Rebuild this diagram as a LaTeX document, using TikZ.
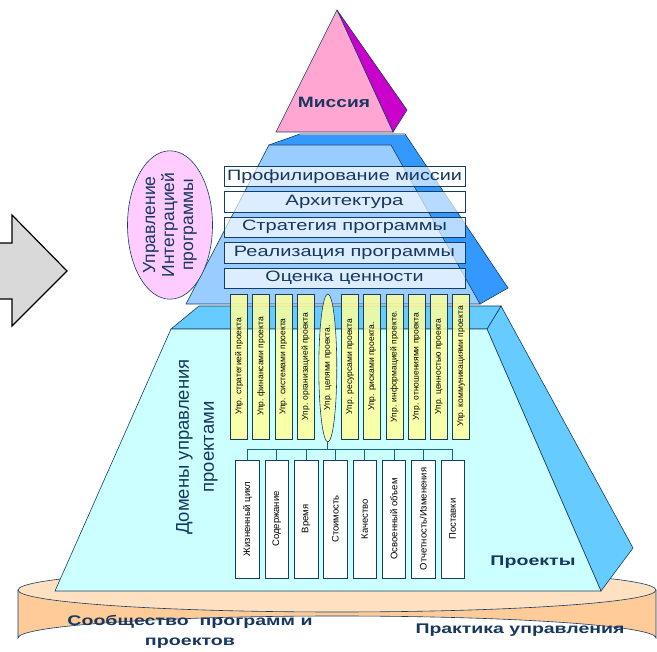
\documentclass[tikz,border=0pt]{standalone}
\usepackage{fontspec}
\setmainfont{Liberation Sans}
\usepackage{tikz}
\usetikzlibrary{positioning,shapes.geometric}
\definecolor{edgeblue}{RGB}{20,60,100}
\definecolor{textblue}{RGB}{23,55,94}
\definecolor{diskside}{RGB}{255,204,153}
\definecolor{disktop}{RGB}{255,224,192}
\definecolor{projfront}{RGB}{204,255,255}
\definecolor{projside}{RGB}{102,204,255}
\definecolor{progfront}{RGB}{153,204,255}
\definecolor{progback}{RGB}{51,153,255}
\definecolor{misspink}{RGB}{255,166,210}
\definecolor{missside}{RGB}{204,0,204}
\definecolor{intpink}{RGB}{255,204,255}
\definecolor{baryellow}{RGB}{255,255,153}
\newcommand{\fitw}[2]{\resizebox{#1pt}{\height}{#2}}

\begin{document}
\begin{tikzpicture}[x=1pt,y=-1pt,
  outline/.style={draw=edgeblue,line width=0.6pt},
  progbox/.style={outline,fill=white,fill opacity=0.65,text opacity=1,minimum width=241pt,minimum height=20.5pt,inner sep=0pt,text=textblue,font=\fontsize{15}{15}\selectfont},
  ybar/.style={outline,fill=baryellow,fill opacity=0.85,text opacity=1,rotate=90,minimum width=145pt,minimum height=17pt,inner sep=0pt,font=\fontsize{8.5}{9}\selectfont},
  wbox/.style={outline,fill=white,rotate=90,minimum width=118pt,minimum height=23.5pt,inner sep=0pt,font=\fontsize{9.5}{10}\selectfont},
  biglabel/.style={text=textblue,font=\bfseries\fontsize{14}{20}\selectfont,inner sep=0pt},
  link/.style={draw=edgeblue!80!cyan,line width=0.7pt}]
\useasboundingbox (0,0) rectangle (657,652);
\clip (0,0) rectangle (657,652);
\fill[white] (0,0) rectangle (657,652);
% Grey arrow on the left
\draw[line width=1.2pt,fill=gray!30] (-5,243) -- (12,243) -- (12,215) -- (67,271) -- (12,326) -- (12,299) -- (-5,299) -- cycle;
% Base disk
\fill[diskside] (18,590) -- (18,638) arc[start angle=180,end angle=360,x radius=319,y radius=22] -- (656,590) -- cycle;
\draw[outline] (18,590) -- (18,638) arc[start angle=180,end angle=360,x radius=319,y radius=22] -- (656,590);
\draw[outline,fill=disktop] (337,590) ellipse[x radius=319,y radius=22];
% Projects level
\draw[outline,fill=projside] (487,329) -- (501,306) -- (633,548) -- (601,591) -- cycle;
\draw[outline,fill=projside] (171,329) -- (199,306) -- (501,306) -- (487,329) -- cycle;
\draw[outline,fill=projfront] (171,329) -- (487,329) -- (601,591) -- (55,591) -- cycle;
% Program level
\draw[outline,fill=progback] (269,145) -- (300,134) -- (405,134) -- (508,288) -- (480,304) -- cycle;
\draw[gray!60,line width=1.5pt] (300,134) -- (405,134);
\draw[outline,fill=progfront] (269,145) -- (391,145) -- (480,304) -- (186,304) -- cycle;
% Mission pyramid
\draw[outline,fill=missside] (337,10) -- (407,110) -- (393,132) -- cycle;
\draw[outline,fill=misspink] (337,10) -- (393,132) -- (276,132) -- cycle;
\node[biglabel,font=\bfseries\fontsize{15}{15}\selectfont] (misslbl) at (334,102) {\fitw{72}{Миссия}};
% Integration ellipse
\node[ellipse,outline,fill=intpink,rotate=90,minimum width=134pt,minimum height=85pt,inner sep=0pt,
  align=center,text=textblue,font=\fontsize{17.5}{19}\selectfont] (integr) at (170,225)
  {Управление\\Интеграцией\\программы};
% Program boxes
\foreach \lbl/\w [count=\i from 0] in {Профилирование миссии/235,Архитектура/118,Стратегия программы/205,Реализация программы/221,Оценка ценности/158} {
  \node[progbox] (prog\i) at (344.5,{176.5+25.4*\i}) {\fitw{\w}{\lbl}};
}
% Yellow bars
\foreach \lbl [count=\i from 0] in {Упр. стратегией проекта,Упр. финансами проекта,Упр. системами проекта,Упр. организацией проекта,Упр. ресурсами проекта,Упр. рисками проекта.,Упр. информацией проекте.,Упр. отношениями проекта,Упр. ценностью проекта,Упр. коммуникациями проекта} {
  \pgfmathsetmacro\bx{239+22.2*(\i<4 ? \i : \i+1)}
  \node[ybar] (bar\i) at (\bx,366.5) {\lbl};
}
\node[ybar,ellipse,minimum width=148pt,minimum height=18pt] (goals) at (327.8,368) {Упр. целями проекта.};
% Domain boxes
\foreach \lbl [count=\i from 1] in {Жизненный цикл,Содержание,Время,Стоимость,Качество,Освоенный объем,Отчетность/Изменения,Поставки} {
  \node[wbox] (dom\i) at ({247.5+29.3*(\i-1)},519) {\lbl};
}
\coordinate (hub) at ([yshift=-7pt]goals.west);
\draw[link] (goals.west) -- (hub);
\draw[link] (dom1.east |- hub) -- (dom8.east |- hub);
\foreach \i in {1,...,8} \draw[link] (dom\i.east) -- (dom\i.east |- hub);
% Labels
\node[rotate=90,align=center,text=textblue,font=\fontsize{18.5}{25}\selectfont,inner sep=0pt] (domlbl) at (197,447) {Домены управления\\проектами};
\node[biglabel] (projlbl) at (533,562) {\fitw{85}{Проекты}};
\node[biglabel,align=center] (commlbl) at (190,632) {\fitw{245}{Сообщество\ \ программ и}\\\fitw{90}{проектов}};
\node[biglabel] (praclbl) at (520,630) {\fitw{209}{Практика управления}};
\end{tikzpicture}
\end{document}
